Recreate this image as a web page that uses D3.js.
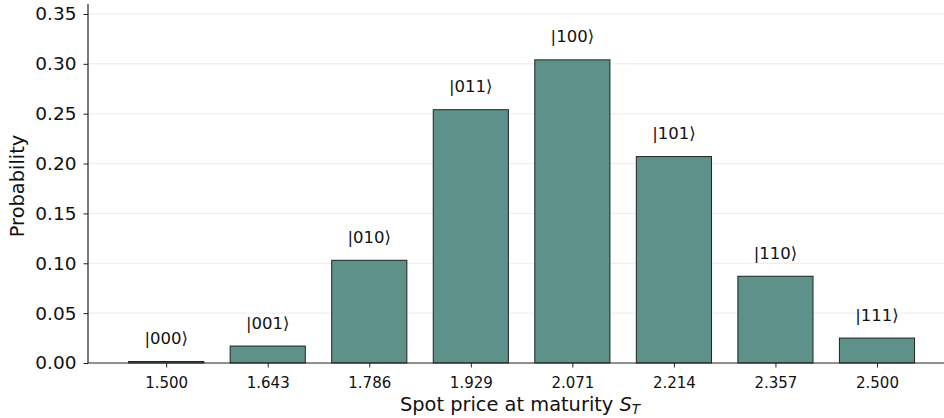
<!DOCTYPE html>
<html><head><meta charset="utf-8">
<script src="https://cdn.jsdelivr.net/npm/d3@7"></script>
<style>body{margin:0;background:#fff;} text{font-family:"DejaVu Sans",sans-serif;}</style>
</head><body><svg id="c" width="944" height="418"></svg>
<script>
const prices = ["1.500","1.643","1.786","1.929","2.071","2.214","2.357","2.500"];
const states = ["|000⟩","|001⟩","|010⟩","|011⟩","|100⟩","|101⟩","|110⟩","|111⟩"];
const probs = [0.0015,0.017,0.103,0.254,0.304,0.207,0.087,0.025];
const yTicks = [0,0.05,0.10,0.15,0.20,0.25,0.30,0.35];

const svg = d3.select("#c");
const L = 88, R = 944, T = 4, B = 363;
const idx = d3.range(prices.length);
const x = d3.scaleLinear().domain([-0.77, 7.66]).range([L, R]);
const y = d3.scaleLinear().domain([0, 0.36]).range([B, T]);
const bw = 0.74;

svg.append("g").selectAll("line").data(yTicks.slice(1)).join("line")
  .attr("x1", L).attr("x2", R).attr("y1", d=>y(d)).attr("y2", d=>y(d))
  .attr("stroke", "#e6e6e6").attr("stroke-width", 0.8);

svg.append("g").selectAll("rect").data(idx).join("rect")
  .attr("x", i=>x(i-bw/2)).attr("width", i=>x(i+bw/2)-x(i-bw/2))
  .attr("y", i=>y(probs[i])).attr("height", i=>y(0)-y(probs[i]))
  .attr("fill", "#5e918a").attr("stroke", "#222").attr("stroke-width", 1);

svg.append("g").selectAll("text").data(idx).join("text")
  .attr("x", i=>x(i)).attr("y", i=>y(probs[i])-17.5)
  .attr("text-anchor","middle").attr("font-size", 16.5).attr("fill","#111")
  .text(i=>states[i]);

const ya = svg.append("g").attr("transform",`translate(${L},0)`)
  .call(d3.axisLeft(y).tickValues(yTicks).tickFormat(d3.format(".2f")).tickSize(4.5).tickPadding(7));
ya.select(".domain").attr("d", `M0,${T}V${B}`).attr("stroke","#222").attr("stroke-width",1.2);
ya.selectAll(".tick line").attr("stroke","#222");
ya.selectAll("text").attr("font-size",18.5).attr("fill","#111").attr("font-family","DejaVu Sans");

const xa = svg.append("g").attr("transform",`translate(0,${B})`)
  .call(d3.axisBottom(x).tickValues(idx).tickFormat(i=>prices[i]).tickSize(4.5).tickPadding(10));
xa.select(".domain").attr("d", `M${L},0H${R}`).attr("stroke","#222").attr("stroke-width",1.2);
xa.selectAll(".tick line").attr("stroke","#222");
xa.selectAll("text").attr("font-size",15).attr("fill","#111").attr("font-family","DejaVu Sans");

svg.append("text").attr("transform","translate(24,186) rotate(-90)")
  .attr("text-anchor","middle").attr("font-size",19.4).attr("fill","#111").text("Probability");
const xt = svg.append("text").attr("x", 520).attr("y", 411)
  .attr("text-anchor","middle").attr("font-size",19.4).attr("fill","#111");
xt.append("tspan").text("Spot price at maturity ");
xt.append("tspan").attr("font-style","italic").text("S");
xt.append("tspan").attr("font-style","italic").attr("font-size",13.5).attr("dy",2.5).text("T");
</script></body></html>
